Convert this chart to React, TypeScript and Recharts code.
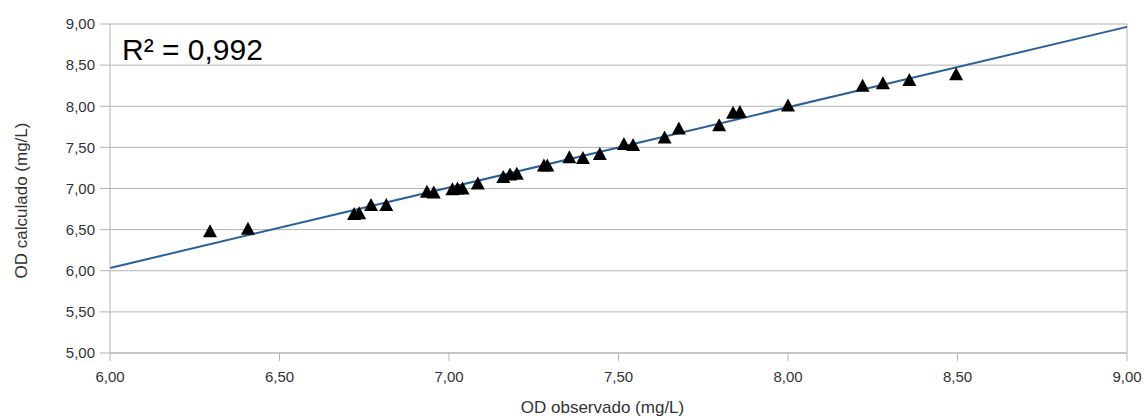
import {
  ScatterChart,
  Scatter,
  XAxis,
  YAxis,
  CartesianGrid,
  ReferenceLine,
  Label,
} from 'recharts';

// observed vs calculated dissolved oxygen (mg/L)
const observed = [
  6.295, 6.407, 6.72, 6.735, 6.77, 6.815, 6.935, 6.955, 7.01, 7.025, 7.04,
  7.085, 7.16, 7.18, 7.2, 7.28, 7.29, 7.355, 7.395, 7.445, 7.516, 7.543,
  7.636, 7.678, 7.797, 7.838, 7.858, 8.0, 8.22, 8.28, 8.358, 8.496,
];
const calculated = [
  6.48, 6.51, 6.69, 6.7, 6.8, 6.8, 6.96, 6.95, 6.99, 7.0, 7.0,
  7.06, 7.14, 7.17, 7.18, 7.28, 7.28, 7.38, 7.37, 7.42, 7.54, 7.53,
  7.62, 7.73, 7.77, 7.92, 7.93, 8.01, 8.25, 8.28, 8.32, 8.39,
];
const xTicks = [6, 6.5, 7, 7.5, 8, 8.5, 9];
const yTicks = [5, 5.5, 6, 6.5, 7, 7.5, 8, 8.5, 9];
const trendSlope = 0.977;
const trendIntercept = 0.172;
const r2Label = 'R² = 0,992';

const points = observed.map((x, i) => ({ x, y: calculated[i] }));

const fmt = (v: number) => v.toFixed(2).replace('.', ',');

const Triangle = (props: any) => {
  const { cx, cy } = props;
  return (
    <polygon
      points={`${cx},${cy - 7} ${cx - 7},${cy + 6} ${cx + 7},${cy + 6}`}
      fill="#000"
    />
  );
};

const font = '"Liberation Sans", Arial, sans-serif';
const gray = '#b3b3b3';

export default function App() {
  return (
    <div style={{ position: 'absolute', left: 0, top: 0, fontFamily: font }}>
      <ScatterChart
        width={1144}
        height={419}
        margin={{ top: 24, right: 17, bottom: 6, left: 40 }}
      >
        <CartesianGrid vertical={false} stroke={gray} />
        <XAxis
          type="number"
          dataKey="x"
          domain={[6, 9]}
          ticks={xTicks}
          tickFormatter={fmt}
          stroke={gray}
          tickSize={8}
          tickMargin={10}
          height={60}
          tick={{ fill: '#333', fontSize: 15, fontFamily: font }}
          allowDataOverflow
        >
          <Label
            value="OD observado (mg/L)"
            position="insideBottom"
            offset={0}
            dx={-16}
            style={{ fill: '#333', fontSize: 17, fontFamily: font }}
          />
        </XAxis>
        <YAxis
          type="number"
          dataKey="y"
          domain={[5, 9]}
          ticks={yTicks}
          tickFormatter={fmt}
          stroke={gray}
          tickSize={10}
          tickMargin={5}
          width={70}
          tick={{ fill: '#333', fontSize: 15, fontFamily: font }}
          allowDataOverflow
        >
          <Label
            value="OD calculado (mg/L)"
            angle={-90}
            position="insideLeft"
            offset={-19}
            dy={12}
            style={{ fill: '#333', fontSize: 17, fontFamily: font, textAnchor: 'middle' }}
          />
        </YAxis>
        <ReferenceLine x={9} stroke={gray} />
        <ReferenceLine
          segment={[
            { x: 6, y: trendIntercept + trendSlope * 6 },
            { x: 9, y: trendIntercept + trendSlope * 9 },
          ]}
          stroke="#2a6099"
          strokeWidth={2}
        />
        <Scatter
          data={points}
          shape={Triangle}
          isAnimationActive={false}
        />
      </ScatterChart>
      <div
        style={{
          position: 'absolute',
          left: 122,
          top: 33,
          fontSize: 30,
          lineHeight: '34px',
          color: '#000',
          fontFamily: font,
        }}
      >
        {r2Label}
      </div>
    </div>
  );
}
